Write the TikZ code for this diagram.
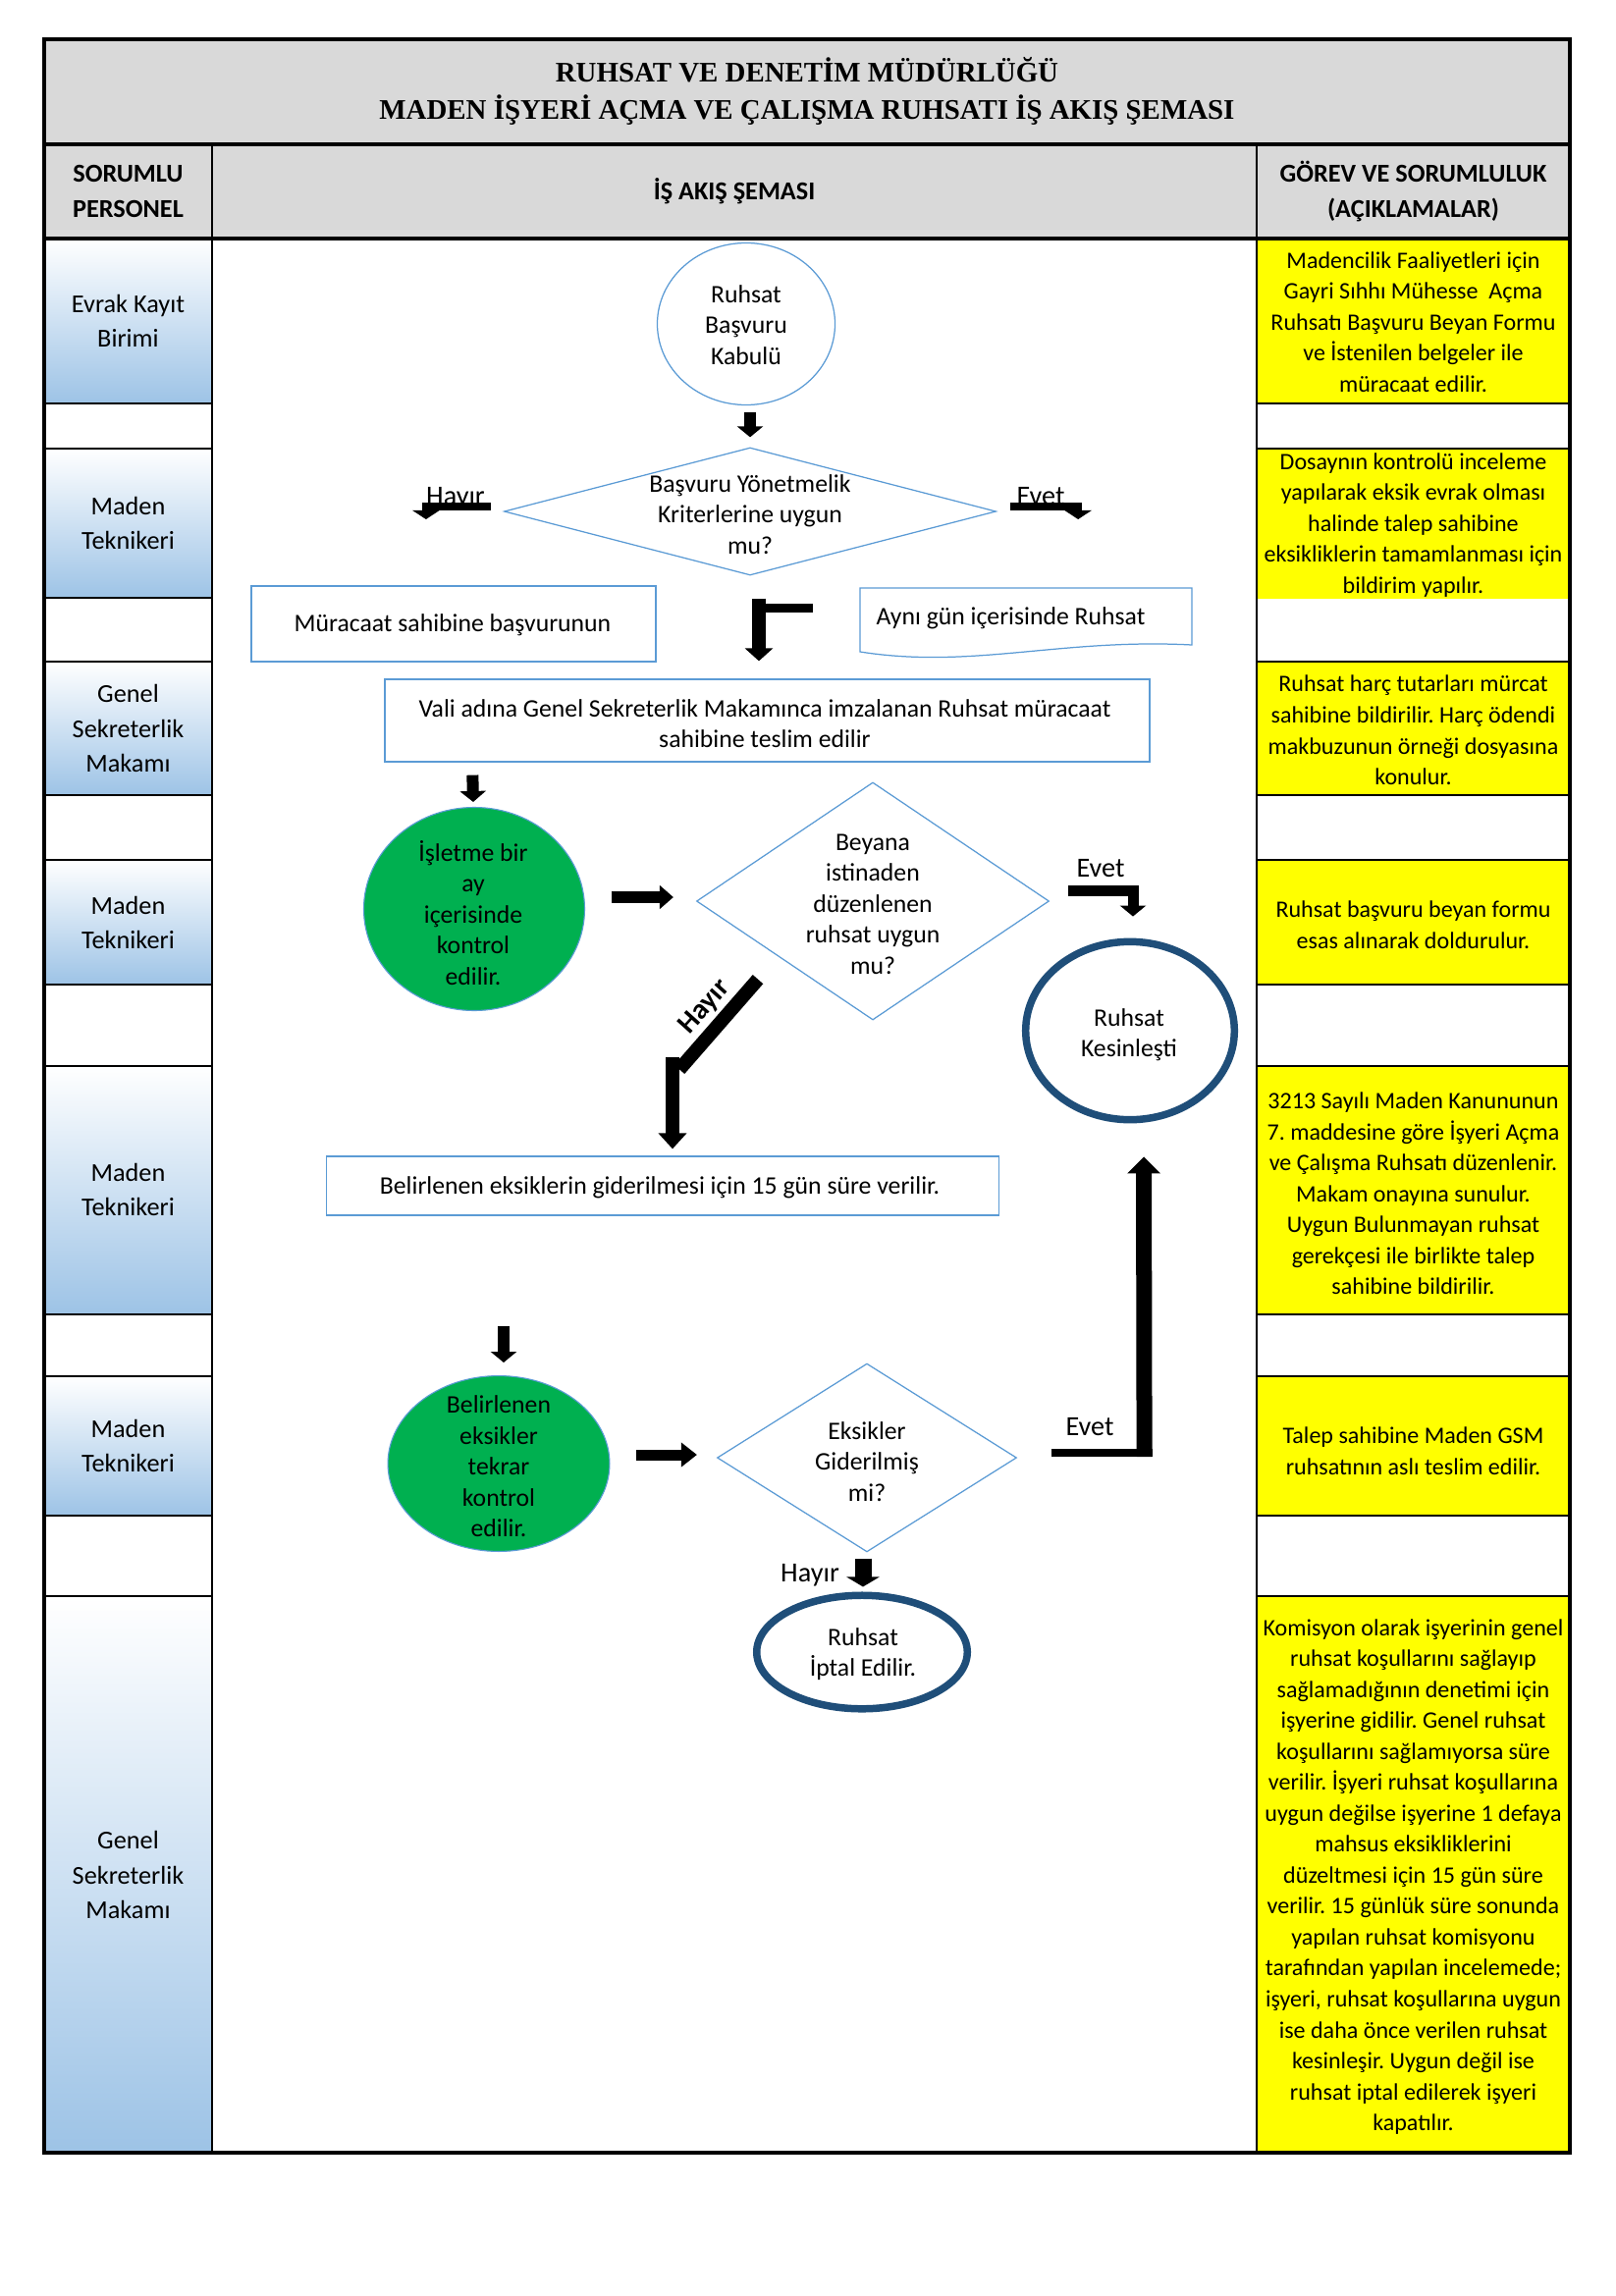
\documentclass[tikz,border=0pt]{standalone}
\usepackage{fontspec}
\setmainfont{Carlito}
\newfontfamily\titlefont{Liberation Serif}
\usetikzlibrary{shapes.geometric,arrows.meta,calc}
\definecolor{hdrgray}{HTML}{D9D9D9}
\definecolor{lnblue}{HTML}{5B9BD5}
\definecolor{grn}{HTML}{00B050}
\definecolor{dkblue}{HTML}{1F4E79}
\definecolor{ylw}{HTML}{FFFF00}
\definecolor{cellblue}{HTML}{9DC3E6}
\frenchspacing
\begin{document}
\begin{tikzpicture}[x=0.3617pt,y=-0.3617pt,
  ltxt/.style={font=\fontsize{9.5}{12.7}\selectfont, align=center, inner sep=0pt},
  rtxt/.style={font=\fontsize{8.7}{11.4}\selectfont, align=center, inner sep=0pt},
  ftxt/.style={font=\fontsize{9.3}{11.4}\selectfont, align=center, inner sep=0pt},
  htxt/.style={font=\bfseries\fontsize{9.5}{12.7}\selectfont, align=center, inner sep=0pt},
  ttxt/.style={font=\titlefont\bfseries\fontsize{10.45}{13.5}\selectfont, align=center, inner sep=0pt},
  lbl/.style={font=\fontsize{10.2}{12}\selectfont, inner sep=0pt},
  thinblue/.style={draw=lnblue, line width=0.45pt},
  box/.style={thinblue, rectangle, inner sep=0pt},
  dia/.style={thinblue, diamond, inner sep=0pt},
  ell/.style={thinblue, ellipse, inner sep=0pt},
  gell/.style={ellipse, fill=grn, draw=lnblue, line width=0.4pt, inner sep=0pt},
  bell/.style={ellipse, draw=dkblue, line width=2.71pt, inner sep=0pt},
  tline/.style={line width=1.2pt},
  rline/.style={line width=1pt},
  blk/.style={draw=black, line cap=butt, line join=miter},
  bluecell/.style={top color=white, bottom color=cellblue},
]
\useasboundingbox (0,0) rectangle (1646,2339);
\fill[white] (0,0) rectangle (1646,2339);

% header backgrounds
\fill[hdrgray] (45,40) rectangle (1599,243);

% left column cells
\fill[bluecell] (45,243) rectangle (216,411);
\fill[bluecell] (45,457) rectangle (216,609);
\fill[bluecell] (45,674) rectangle (216,810);
\fill[bluecell] (45,876) rectangle (216,1003);
\fill[bluecell] (45,1086) rectangle (216,1339);
\fill[bluecell] (45,1402) rectangle (216,1544);
\fill[bluecell] (45,1626) rectangle (216,2193);

% right column cells
\fill[ylw] (1280,243) rectangle (1599,411);
\fill[ylw] (1280,457) rectangle (1599,610);
\fill[ylw] (1280,674) rectangle (1599,810);
\fill[ylw] (1280,876) rectangle (1599,1003);
\fill[ylw] (1280,1086) rectangle (1599,1339);
\fill[ylw] (1280,1402) rectangle (1599,1544);
\fill[ylw] (1280,1626) rectangle (1599,2193);

% grid lines
\draw[rline] (216,147) -- (216,2193);
\draw[rline] (1280,147) -- (1280,2193);
\draw[tline] (45,147) -- (1599,147);
\draw[tline] (45,243) -- (1599,243);
\foreach \yy in {411,457,609,674,810,876,1003,1086,1339,1402,1544,1626}
  \draw[rline] (45,\yy) -- (216,\yy);
\foreach \yy in {411,457,674,810,876,1003,1086,1339,1402,1544,1626}
  \draw[rline] (1280,\yy) -- (1599,\yy);
\draw[tline] (45,40) rectangle (1599,2193);

% header texts
\node[ttxt] (title) at (822,93) {RUHSAT VE DENETİM MÜDÜRLÜĞÜ\\MADEN İŞYERİ AÇMA VE ÇALIŞMA RUHSATI İŞ AKIŞ ŞEMASI};
\node[htxt] (h1) at (130.5,195) {SORUMLU\\PERSONEL};
\node[htxt] (h2) at (748,195) {İŞ AKIŞ ŞEMASI};
\node[htxt] (h3) at (1439.5,195) {GÖREV VE SORUMLULUK\\(AÇIKLAMALAR)};

% left column texts
\node[ltxt] (l1) at (130.5,327) {Evrak Kayıt\\Birimi};
\node[ltxt] (l2) at (130.5,533) {Maden\\Teknikeri};
\node[ltxt] (l3) at (130.5,742) {Genel\\Sekreterlik\\Makamı};
\node[ltxt] (l4) at (130.5,940) {Maden\\Teknikeri};
\node[ltxt] (l5) at (130.5,1212) {Maden\\Teknikeri};
\node[ltxt] (l6) at (130.5,1473) {Maden\\Teknikeri};
\node[ltxt] (l7) at (130.5,1910) {Genel\\Sekreterlik\\Makamı};

% right column texts
\node[rtxt] (r1) at (1439.5,328) {Madencilik Faaliyetleri için\\Gayri Sıhhı Mühesse\ \ Açma\\Ruhsatı Başvuru Beyan Formu\\ve İstenilen belgeler ile\\müracaat edilir.};
\node[rtxt] (r2) at (1439.5,535) {Dosaynın kontrolü inceleme\\yapılarak eksik evrak olması\\halinde talep sahibine\\eksikliklerin tamamlanması için\\bildirim yapılır.};
\node[rtxt] (r3) at (1439.5,744) {Ruhsat harç tutarları mürcat\\sahibine bildirilir. Harç ödendi\\makbuzunun örneği dosyasına\\konulur.};
\node[rtxt] (r4) at (1439.5,942) {Ruhsat başvuru beyan formu\\esas alınarak doldurulur.};
\node[rtxt] (r5) at (1439.5,1216) {3213 Sayılı Maden Kanununun\\7. maddesine göre İşyeri Açma\\ve Çalışma Ruhsatı düzenlenir.\\Makam onayına sunulur.\\Uygun Bulunmayan ruhsat\\gerekçesi ile birlikte talep\\sahibine bildirilir.};
\node[rtxt] (r6) at (1439.5,1478) {Talep sahibine Maden GSM\\ruhsatının aslı teslim edilir.};
\node[rtxt] (r7) at (1439.5,1912) {Komisyon olarak işyerinin genel\\ruhsat koşullarını sağlayıp\\sağlamadığının denetimi için\\işyerine gidilir. Genel ruhsat\\koşullarını sağlamıyorsa süre\\verilir. İşyeri ruhsat koşullarına\\uygun değilse işyerine 1 defaya\\mahsus eksikliklerini\\düzeltmesi için 15 gün süre\\verilir. 15 günlük süre sonunda\\yapılan ruhsat komisyonu\\tarafından yapılan incelemede;\\işyeri, ruhsat koşullarına uygun\\ise daha önce verilen ruhsat\\kesinleşir. Uygun değil ise\\ruhsat iptal edilerek işyeri\\kapatılır.};

% flowchart shapes
\node[ell, minimum width=65.47pt, minimum height=59.68pt] (n1) at (760,330) {};
\node[ftxt] (n1t) at (760,331) {Ruhsat\\Başvuru\\Kabulü};

\node[dia, minimum width=181.2pt, minimum height=47.02pt] (d1) at (764,521) {};
\node[ftxt] (d1t) at (764,524) {Başvuru Yönetmelik\\Kriterlerine uygun\\mu?};

\node[box, minimum width=149pt, minimum height=27.85pt] (m1) at (462,635.5) {};
\node[ftxt] (m1t) at (461,637) {Müracaat sahibine başvurunun};

\draw[thinblue] (876,599) -- (1214,599) -- (1214,657) .. controls (1080,650) and (990,682) .. (876,664) -- cycle;
\node[ftxt, anchor=west] (ag) at (892,630) {Aynı gün içerisinde Ruhsat};

\node[box, minimum width=281.8pt, minimum height=30.38pt] (v1) at (781.5,734) {};
\node[ftxt] (v1t) at (779,737) {Vali adına Genel Sekreterlik Makamınca imzalanan Ruhsat müracaat\\sahibine teslim edilir};

\node[gell, minimum width=81.38pt, minimum height=74.87pt] (e1) at (483,926) {};
\node[ftxt] (e1t) at (482,930) {İşletme bir\\ay\\içerisinde\\kontrol\\edilir.};

\node[dia, minimum width=129.85pt, minimum height=87.53pt] (d2) at (889,918) {};
\node[ftxt] (d2t) at (889,921) {Beyana\\istinaden\\düzenlenen\\ruhsat uygun\\mu?};

\node[bell, minimum width=76.9pt, minimum height=65.6pt] (c1) at (1151,1050) {};
\node[ftxt] (c1t) at (1150,1054) {Ruhsat\\Kesinleşti};

\node[box, minimum width=247.8pt, minimum height=21.7pt] (b1) at (675,1208) {};
\node[ftxt] (b1t) at (672,1210) {Belirlenen eksiklerin giderilmesi için 15 gün süre verilir.};

\node[gell, minimum width=81.7pt, minimum height=64.7pt] (e2) at (508,1491) {};
\node[ftxt] (e2t) at (508,1494) {Belirlenen\\eksikler\\tekrar\\kontrol\\edilir.};

\node[dia, minimum width=110.3pt, minimum height=69.4pt] (d3) at (883,1485) {};
\node[ftxt] (d3t) at (883,1489) {Eksikler\\Giderilmiş\\mi?};

\node[bell, minimum width=77.6pt, minimum height=41.8pt] (c2) at (878,1683) {};
\node[ftxt] (c2t) at (879,1685) {Ruhsat\\İptal Edilir.};

% connectors
\draw[blk, line width=4.34pt, -{Triangle[width=9.4pt,length=3.98pt]}]
  ($(n1.south)+(4,6.5)$) -- ($(d1.north)+(0,-10)$);

\draw[blk, line width=2.89pt, -{Triangle[width=9.77pt,length=3.26pt]}]
  ($(d1.west)+(-12.5,-5)$) -| ($(d1.west)+(-79,8)$);
\node[lbl, anchor=base] (hy1) at (464,514) {Hayır};

\draw[blk, line width=2.89pt, -{Triangle[width=9.77pt,length=3.26pt]}]
  ($(d1.east)+(13.5,-5)$) -| ($(d1.east)+(83,8)$);
\node[lbl, anchor=base] (ev1) at (1060,514) {Evet};

\draw[blk, line width=5.06pt, -{Triangle[width=10.13pt,length=4.7pt]}]
  ($(d1.south)+(9,23)$) -- ($(v1.north)+(-8.5,-18)$);
\draw[blk, line width=3.26pt] ($(d1.south)+(11,32.5)$) -- ($(d1.south)+(64,32.5)$);

\draw[blk, line width=4.34pt, -{Triangle[width=9.4pt,length=3.98pt]}]
  ($(v1.south west)+(90,13)$) -- ($(e1.north)+(-1,-5)$);

\draw[blk, line width=4.34pt, -{Triangle[width=8.5pt,length=5.06pt]}]
  ($(e1.east)+(26.5,-12)$) -- ($(d2.west)+(-23,-4)$);

\draw[blk, line width=3.98pt, -{Triangle[width=9.4pt,length=3.98pt]}]
  ($(d2.east)+(19,-11)$) -| ($(c1.north)+(3,-22)$);
\node[lbl, anchor=base] (ev2) at (1121,893) {Evet};

\draw[blk, line width=5.06pt] ($(d2.south)+(-117,-42)$) -- ($(b1.north)+(17,-88)$);
\draw[blk, line width=5.06pt, -{Triangle[width=10.13pt,length=5.79pt]}]
  ($(b1.north)+(10,-100)$) -- ($(b1.north)+(10,-7)$);
\node[lbl, font=\bfseries\fontsize{10.5}{12}\selectfont, rotate=48] (hy2) at (718,1026) {Hayır};

\draw[blk, line width=4.34pt, -{Triangle[width=9.4pt,length=3.98pt]}]
  ($(e2.north)+(5,-50)$) -- ($(e2.north)+(5,-13)$);

\draw[blk, line width=3.98pt, -{Triangle[width=8.68pt,length=5.79pt]}]
  ($(e2.east)+(26,-9)$) -- ($(d3.west)+(-20,-3)$);

\draw[blk, line width=2.89pt] ($(d3.east)+(34.5,-5)$) -- ($(d3.east)+(137.5,-5)$);
\draw[blk, line width=5.79pt, -{Triangle[width=11.94pt,length=6.15pt]}]
  ($(d3.east)+(129.5,-1)$) -- ($(c1.south)+(14,34)$);
\node[lbl, anchor=base] (ev3) at (1110,1462) {Evet};

\draw[blk, line width=6.15pt, -{Triangle[width=11.94pt,length=3.62pt]}]
  ($(d3.south)+(-4,6)$) -- ($(c2.north)+(1,-5)$);
\node[lbl, anchor=base] (hy3) at (825,1611) {Hayır};
\end{tikzpicture}
\end{document}
